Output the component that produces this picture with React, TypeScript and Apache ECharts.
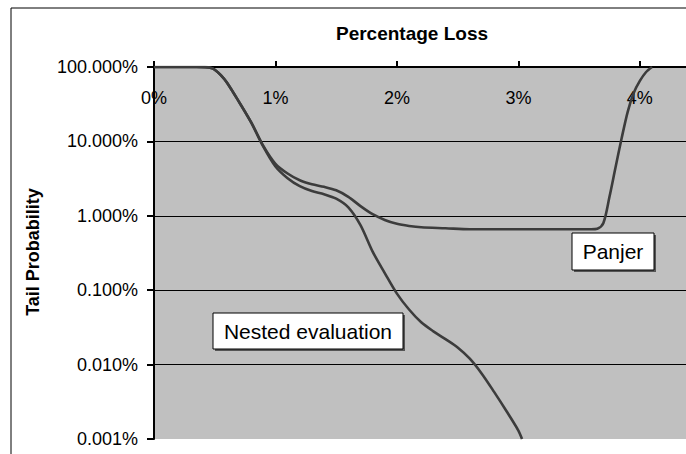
import React, { useEffect, useRef } from "react";
import * as echarts from "echarts";

const xTicks = [0, 1, 2, 3, 4];
const yTicks = [0.001, 0.01, 0.1, 1, 10, 100];

const nestedX = [0, 0.2, 0.35, 0.42, 0.47, 0.5, 0.55, 0.6, 0.7, 0.8, 0.9, 1.0, 1.1, 1.2, 1.3, 1.4, 1.5, 1.6, 1.7, 1.8, 1.9, 2.0, 2.1, 2.2, 2.3, 2.4, 2.5, 2.6, 2.7, 2.8, 2.9, 3.0, 3.03];
const nestedY = [100, 100, 100, 99.5, 97, 92, 78, 62, 34, 18, 8.5, 4.6, 3.2, 2.5, 2.15, 1.95, 1.7, 1.3, 0.75, 0.33, 0.17, 0.09, 0.055, 0.037, 0.028, 0.022, 0.017, 0.012, 0.0075, 0.0043, 0.0024, 0.0013, 0.001];

const panjerX = [0, 0.2, 0.35, 0.42, 0.47, 0.5, 0.55, 0.6, 0.7, 0.8, 0.9, 1.0, 1.1, 1.2, 1.3, 1.4, 1.5, 1.6, 1.7, 1.8, 1.9, 2.0, 2.1, 2.2, 2.4, 2.6, 2.8, 3.0, 3.2, 3.4, 3.6, 3.65, 3.7, 3.75, 3.8, 3.85, 3.9, 3.95, 4.0, 4.05, 4.1];
const panjerY = [100, 100, 100, 99.5, 97, 92, 78, 62, 34, 18, 8.7, 5.0, 3.7, 3.0, 2.65, 2.45, 2.2, 1.8, 1.35, 1.05, 0.88, 0.78, 0.73, 0.7, 0.68, 0.66, 0.66, 0.66, 0.66, 0.66, 0.66, 0.67, 0.8, 1.8, 4.5, 11, 25, 45, 65, 85, 100];

const labels = [
  { text: "Panjer", x: 572, y: 233, w: 82, h: 37 },
  { text: "Nested evaluation", x: 213, y: 313, w: 190, h: 36 },
];

export default function App() {
  const ref = useRef<HTMLDivElement>(null);
  useEffect(() => {
    if (!ref.current) return;
    const chart = echarts.init(ref.current, undefined, { renderer: "svg" });
    const font = "Liberation Sans, Arial, sans-serif";
    const lineStyle = { color: "#3c3c3c", width: 2.6 };
    chart.setOption({
      animation: false,
      backgroundColor: "#ffffff",
      grid: { left: 154, top: 67, right: 0, bottom: 15, show: true, backgroundColor: "#c0c0c0", borderWidth: 0 },
      xAxis: {
        type: "value",
        position: "top",
        min: xTicks[0],
        max: 4.38,
        interval: 1,
        axisLine: { show: true, lineStyle: { color: "#000", width: 2 } },
        axisTick: { show: true, length: 6, lineStyle: { color: "#000", width: 2 } },
        axisLabel: {
          inside: true,
          margin: 22,
          showMaxLabel: false,
          color: "#000",
          fontSize: 18,
          fontFamily: font,
          formatter: (v: number) => (xTicks.includes(Math.round(v)) && Math.abs(v - Math.round(v)) < 1e-6 ? `${Math.round(v)}%` : ""),
        },
        splitLine: { show: false },
      },
      yAxis: {
        type: "log",
        logBase: 10,
        min: yTicks[0],
        max: yTicks[yTicks.length - 1],
        axisLine: { show: true, lineStyle: { color: "#000", width: 2 } },
        axisTick: { show: true, length: 7, lineStyle: { color: "#000", width: 2 } },
        axisLabel: {
          margin: 16,
          color: "#000",
          fontSize: 18,
          fontFamily: font,
          formatter: (v: number) => `${v.toFixed(3)}%`,
        },
        splitLine: { show: true, showMinLine: false, lineStyle: { color: "#000", width: 1 } },
      },
      series: [
        {
          name: "Nested evaluation",
          type: "line",
          data: nestedX.map((x, i) => [x, nestedY[i]]),
          showSymbol: false,
          smooth: 0.3,
          lineStyle,
          z: 3,
        },
        {
          name: "Panjer",
          type: "line",
          data: panjerX.map((x, i) => [x, panjerY[i]]),
          showSymbol: false,
          smooth: 0.3,
          lineStyle,
          z: 3,
        },
      ],
      graphic: [
        {
          type: "rect",
          shape: { x: 11, y: 8, width: 720, height: 500 },
          style: { fill: "none", stroke: "#000", lineWidth: 1 },
          silent: true,
          z: 0,
        },
        {
          type: "text",
          x: 412,
          y: 33,
          style: { text: "Percentage Loss", fontSize: 19, fontWeight: "bold", fontFamily: font, fill: "#000", textAlign: "center", textVerticalAlign: "middle" },
        },
        {
          type: "text",
          x: 33,
          y: 252,
          rotation: Math.PI / 2,
          style: { text: "Tail Probability", fontSize: 18, fontWeight: "bold", fontFamily: font, fill: "#000", textAlign: "center", textVerticalAlign: "middle" },
        },
        ...labels.flatMap((l) => [
          {
            type: "rect",
            shape: { x: l.x + 2, y: l.y + 2, width: l.w, height: l.h },
            style: { fill: "#555", stroke: "none" },
            z: 9,
          },
          {
            type: "rect",
            shape: { x: l.x, y: l.y, width: l.w, height: l.h },
            style: { fill: "#fff", stroke: "#000", lineWidth: 1 },
            z: 10,
          },
          {
            type: "text",
            x: l.x + l.w / 2,
            y: l.y + l.h / 2,
            style: { text: l.text, fontSize: 21, fontFamily: font, fill: "#000", textAlign: "center", textVerticalAlign: "middle" },
            z: 11,
          },
        ]),
      ],
    });
    return () => chart.dispose();
  }, []);
  return <div ref={ref} style={{ position: "fixed", left: 0, top: 0, width: 686, height: 454 }} />;
}
